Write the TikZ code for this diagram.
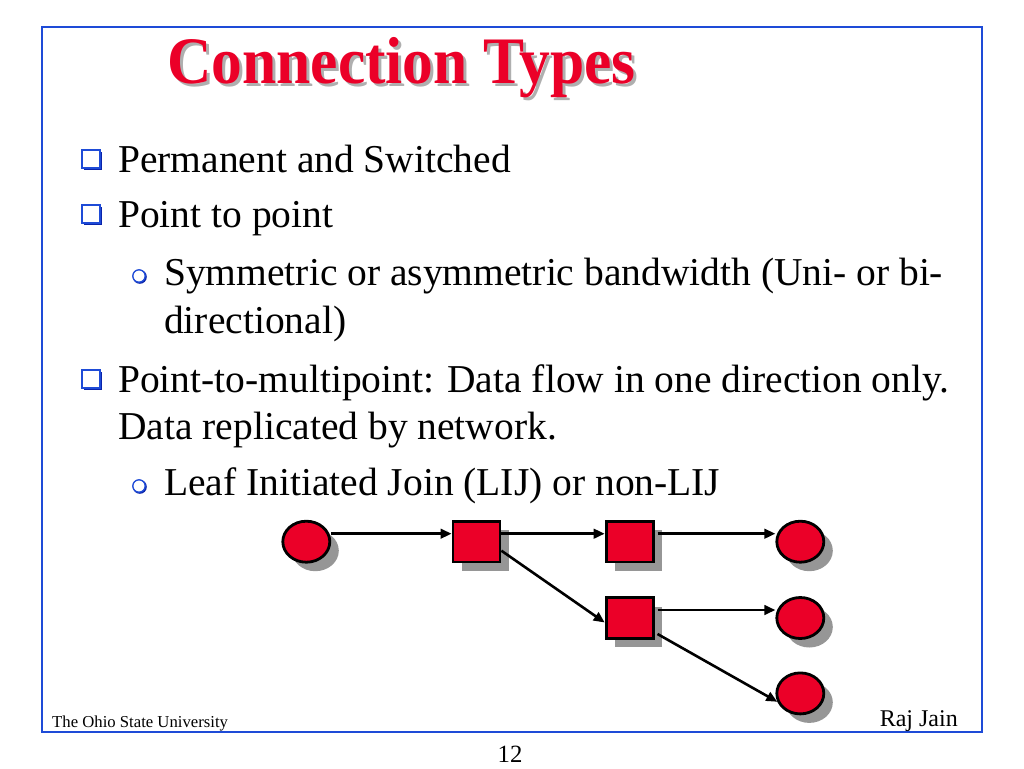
\documentclass[tikz,border=0pt]{standalone}
\usepackage{fontspec}
\setmainfont{Liberation Serif}
\usetikzlibrary{shapes.geometric,shadows,arrows.meta}

\definecolor{slidered}{RGB}{235,0,40}
\definecolor{slideblue}{RGB}{30,75,215}
\definecolor{bulletdark}{RGB}{10,35,170}
\definecolor{shadegray}{RGB}{150,150,150}
\definecolor{titleshade}{RGB}{175,175,175}

\begin{document}
\begin{tikzpicture}[x=1pt,y=-1pt,
        body/.style={anchor=base west,inner sep=0pt,font=\fontsize{39.5}{47}\selectfont},
        caption/.style={inner sep=0pt},
        host/.style={ellipse,draw=black,line width=2.8pt,fill=slidered,
            minimum width=47pt,minimum height=41pt,inner sep=0pt,
            drop shadow={shadow xshift=9pt,shadow yshift=-9pt,opacity=1,fill=shadegray}},
        switch/.style={rectangle,draw=black,line width=2.8pt,fill=slidered,
            minimum width=47pt,minimum height=40.5pt,inner sep=0pt,
            drop shadow={shadow xshift=9pt,shadow yshift=-9pt,opacity=1,fill=shadegray}},
        link/.style={->,line width=2.6pt},
        >={Triangle[length=11pt,width=9.5pt]}]
        \useasboundingbox (0,0) rectangle (1024,768);

        % Frame
        \draw[slideblue,line width=2.5pt] (42,27) rectangle (982,732);

        % Title
        \node[caption,anchor=base west,text=titleshade,font=\fontsize{61.5}{70}\selectfont\bfseries]
            (titleshadow) at (170,86.5) {\scalebox{1}[1.08]{Connection Types}};
        \node[caption,anchor=base west,text=slidered,font=\fontsize{61.5}{70}\selectfont\bfseries]
            (title) at (167,83) {\scalebox{1}[1.08]{Connection Types}};

        % Bullets
        \foreach \by in {172,227,392} {
            \fill[bulletdark] (84,{\by-20}) rectangle +(18,18);
            \draw[slideblue,fill=white,line width=1.5pt] (82,{\by-22}) rectangle +(18,18);
        }
        \foreach \by in {285,495} {
            \fill[bulletdark] (139.8,{\by-8.2}) circle (7pt);
            \draw[slideblue,fill=white,line width=1.3pt] (139,{\by-9}) circle (6.2pt);
        }

        % Text
        \node[body] (perm) at (118,172) {Permanent and Switched};
        \node[body] (ptp) at (118,227) {Point to point};
        \node[body] (symm) at (164,285) {Symmetric or asymmetric bandwidth (Uni- or bi-};
        \node[body] (symmcont) at (164,333) {directional)};
        \node[body] (ptmp) at (118,392) {Point-to-multipoint: Data flow in one direction only.};
        \node[body] (ptmpcont) at (118,439) {Data replicated by network.};
        \node[body] (lij) at (164,495) {Leaf Initiated Join (LIJ) or non-LIJ};

        % Tree
        \node[host] (src) at (306.3,541.7) {};
        \node[switch] (swa) at (476.5,541.7) {};
        \node[switch] (swb) at (629.6,541.7) {};
        \node[host] (dsta) at (800.3,541.7) {};
        \node[switch] (swc) at (629.6,618) {};
        \node[host] (dstb) at (800.3,618) {};
        \node[host] (dstc) at (800.3,693.4) {};

        \draw[link] ([yshift=8pt]src.east) -- ([yshift=8pt]swa.west);
        \draw[link] ([yshift=8pt]swa.east) -- ([yshift=8pt]swb.west);
        \draw[link] ([xshift=3pt,yshift=8pt]swb.east) -- ([yshift=8pt]dsta.west);
        \draw[link] ([yshift=-9pt]swa.east) -- ([yshift=-4.5pt]swc.west);
        \draw[link] ([xshift=3pt,yshift=8pt]swc.east) -- ([yshift=8pt]dstb.west);
        \draw[link] ([xshift=3pt,yshift=-16pt]swc.east) -- (dstc.200);

        % Footer
        \node[caption,anchor=base west,font=\fontsize{16.7}{20}\selectfont] (osu) at (52,727) {The Ohio State University};
        \node[caption,anchor=base east,font=\fontsize{24}{28}\selectfont] (author) at (958,726) {Raj Jain};
        \node[caption,anchor=base,font=\fontsize{24.8}{28}\selectfont] (pagenum) at (510,762) {12};

    \end{tikzpicture}
\end{document}
